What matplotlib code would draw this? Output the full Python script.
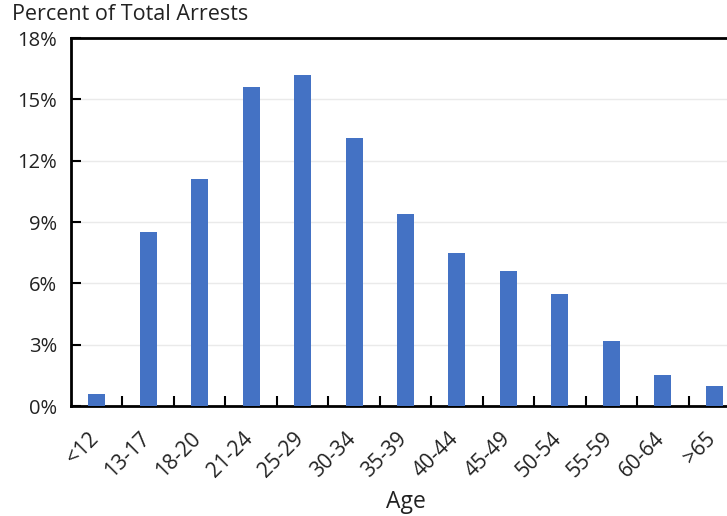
import matplotlib.pyplot as plt
import matplotlib.transforms as mtransforms
import numpy as np

ages = ["<12", "13-17", "18-20", "21-24", "25-29", "30-34", "35-39",
        "40-44", "45-49", "50-54", "55-59", "60-64", ">65"]
pct = [0.6, 8.5, 11.1, 15.6, 16.2, 13.1, 9.4, 7.5, 6.6, 5.5, 3.2, 1.5, 1.0]
yticks = [0, 3, 6, 9, 12, 15, 18]

plt.rcParams['font.family'] = ['Open Sans', 'DejaVu Sans']

fig = plt.figure(figsize=(7.27, 5.16), dpi=100)
# axes runs a bit past the right edge, like the cropped original
ax = fig.add_axes([71/727, 1-406/516, 669/727, 368/516])

x = np.arange(len(ages))
ax.bar(x, pct, width=0.33, color="#4472C4", zorder=3)

ax.set_xlim(-0.5, len(ages) - 0.5)
ax.set_ylim(0, 18)
ax.set_yticks(yticks)
ax.set_yticklabels([f"{v}%" for v in yticks], fontsize=14.5, color="#222222")
ax.yaxis.grid(True, color="#eaeaea", linewidth=1, zorder=0)

ax.set_xticks(x)
ax.set_xticklabels(ages, rotation=45, ha="right", rotation_mode="anchor",
                   fontsize=15, color="#222222")
ax.tick_params(axis="x", length=0, pad=16)
# nudge the rotated labels a little to the left
shift = mtransforms.ScaledTranslation(-9/100, 0, fig.dpi_scale_trans)
for lab in ax.get_xticklabels():
    lab.set_transform(lab.get_transform() + shift)
ax.set_xticks(np.arange(0.5, len(ages) - 0.5, 1), minor=True)
ax.tick_params(axis="x", which="minor", direction="in", length=7, width=1.5)
ax.tick_params(axis="y", direction="in", length=7, width=1.5, pad=10)

for s in ["left", "bottom", "top"]:
    ax.spines[s].set_linewidth(2)
ax.spines["right"].set_visible(False)

ax.set_xlabel("Age", fontsize=16.5, labelpad=6, color="#222222")
fig.text(12/727, 1-15/516, "Percent of Total Arrests", fontsize=15.5,
         va="center", ha="left", color="#222222")

fig.savefig("out.png", dpi=100)
